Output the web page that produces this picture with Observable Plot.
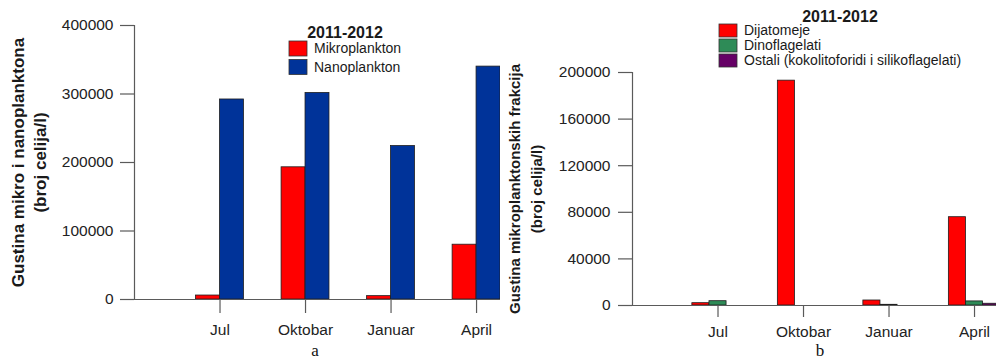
<!DOCTYPE html>
<html>
<head>
<meta charset="utf-8">
<script src="https://cdn.jsdelivr.net/npm/d3@7"></script>
<script src="https://cdn.jsdelivr.net/npm/@observablehq/plot@0.6"></script>
<style>
  body { margin: 0; background: #fff; }
  #wrap { position: relative; width: 996px; height: 359px; overflow: hidden; background: #fff;
          font-family: "Liberation Sans", Arial, sans-serif; }
  #wrap > svg { position: absolute; top: 0; }
</style>
</head>
<body>
<div id="wrap"></div>
<script>
// Sampling months (one season each, 2011-2012)
const months = ["Jul", "Oktobar", "Januar", "April"];

// Panel a: total density, cells per litre
const mikroplankton = [5800, 193000, 4900, 80000];
const nanoplankton = [292000, 301500, 224000, 340000];

// Panel b: microplankton fractions, cells per litre
const dijatomeje = [2000, 193000, 4300, 75800];
const dinoflagelati = [3700, 0, 600, 3500];
const ostali = [0, 0, 0, 1500];

// Axis ticks
const ticksA = [0, 100000, 200000, 300000, 400000];
const ticksB = [0, 40000, 80000, 120000, 160000, 200000];

// Series names and colours
const seriesA = ["Mikroplankton", "Nanoplankton"];
const colorsA = ["#ff0000", "#003399"];
const seriesB = ["Dijatomeje", "Dinoflagelati", "Ostali (kokolitoforidi i silikoflagelati)"];
const colorsB = ["#ff0000", "#2e8b57", "#660066"];

const period = "2011-2012";
const labelA = ["Gustina mikro i nanoplanktona", "(broj celija/l)"];
const labelB = ["Gustina mikroplanktonskih frakcija", "(broj celija/l)"];

const FONT = "'Liberation Sans', Arial, sans-serif";
const wrap = document.getElementById("wrap");

// Grouped bars: each month sits at index 1..4 on a linear x scale,
// bars of one group are placed side by side, centred on the month tick.
function groupedRows(series, values, barW) {
  const rows = [];
  const k = series.length;
  months.forEach((m, i) => {
    series.forEach((s, j) => {
      const v = values[j][i];
      if (v > 0) rows.push({month: m, series: s, value: v, x1: i + 1 + (j - k / 2) * barW, x2: i + 1 + (j - k / 2 + 1) * barW});
    });
  });
  return rows;
}

function panel(o) {
  const rows = groupedRows(o.series, o.values, o.barW);
  const svg = Plot.plot({
    width: o.width, height: o.height,
    marginTop: o.marginTop, marginBottom: o.marginBottom,
    marginLeft: o.marginLeft, marginRight: 0,
    style: {fontFamily: FONT, fontSize: "15.5px", color: "#222", background: "transparent"},
    x: {domain: [0, o.xMax]},
    y: {domain: [0, o.yMax]},
    color: {domain: o.series, range: o.colors},
    marks: [
      Plot.rectY(rows, {x1: "x1", x2: "x2", y: "value", fill: "series", stroke: "#1e1e1e", strokeWidth: 0.8}),
      Plot.ruleY([0], {stroke: "#5a5a5a", strokeWidth: 1.2}),
      Plot.ruleX([0], {y1: 0, y2: o.yMax, stroke: "#5a5a5a", strokeWidth: 1.2}),
      Plot.axisY({ticks: o.ticks, tickFormat: d3.format("d"), tickSize: 14, tickPadding: o.yPad,
                  stroke: "#5a5a5a", strokeWidth: 1.2, fill: "#222", label: null}),
      Plot.axisX({ticks: months.map((m, i) => i + 1), tickFormat: d => months[d - 1],
                  tickSize: o.xTick, tickPadding: o.xPad, stroke: "#5a5a5a", strokeWidth: 1.2, fill: "#222", label: null}),
      Plot.text([o.label[0]], {frameAnchor: "left", rotate: -90, dx: o.labelDx[0], textAnchor: "middle",
                               lineAnchor: "middle", fontWeight: "bold", fontSize: o.labelSize, fill: "#1a1a1a"}),
      Plot.text([o.label[1]], {frameAnchor: "left", rotate: -90, dx: o.labelDx[1], textAnchor: "middle",
                               lineAnchor: "middle", fontWeight: "bold", fontSize: o.labelSize, fill: "#1a1a1a"})
    ]
  });
  svg.style.left = o.left + "px";
  wrap.appendChild(svg);
}

panel({
  left: 0, width: 500, height: 340, marginTop: 25, marginBottom: 41, marginLeft: 134,
  xMax: 4.28, yMax: 400000, ticks: ticksA, barW: 0.28, yPad: 7, xTick: 14, xPad: 10,
  series: seriesA, colors: colorsA, values: [mikroplankton, nanoplankton],
  label: labelA, labelDx: [-116, -94], labelSize: 17
});

panel({
  left: 500, width: 496, height: 340, marginTop: 72, marginBottom: 35, marginLeft: 132,
  xMax: 4.257, yMax: 200000, ticks: ticksB, barW: 0.2, yPad: 8, xTick: 12, xPad: 8,
  series: seriesB, colors: colorsB, values: [dijatomeje, dinoflagelati, ostali],
  label: labelB, labelDx: [-117, -95], labelSize: 15
});

// Legends and panel letters
const overlay = d3.select(wrap).append("svg")
  .attr("width", 996).attr("height", 359)
  .style("left", "0px").style("pointer-events", "none")
  .style("font-family", FONT);

function legend(g, o) {
  g.append("text").attr("x", o.titleX).attr("y", o.titleY).attr("text-anchor", "middle")
    .attr("font-weight", "bold").attr("font-size", 16).attr("fill", "#1a1a1a").text(period);
  o.series.forEach((s, i) => {
    g.append("rect").attr("x", o.x).attr("y", o.y + i * o.step).attr("width", o.sw).attr("height", o.sh)
      .attr("fill", o.colors[i]).attr("stroke", "#333").attr("stroke-width", 0.8);
    g.append("text").attr("x", o.x + o.sw + o.gap).attr("y", o.y + i * o.step + o.base)
      .attr("font-size", o.fontSize).attr("fill", "#1a1a1a").text(s);
  });
}

legend(overlay.append("g"), {titleX: 345, titleY: 38, x: 289, y: 41, step: 18.5, sw: 18, sh: 15, gap: 7,
  base: 12, fontSize: 14, series: seriesA, colors: colorsA});
legend(overlay.append("g"), {titleX: 840, titleY: 22, x: 719, y: 24, step: 15, sw: 18, sh: 13, gap: 7,
  base: 10.5, fontSize: 14, series: seriesB, colors: colorsB});

overlay.append("text").attr("x", 315).attr("y", 356).attr("text-anchor", "middle")
  .attr("font-family", "'Liberation Serif', 'Times New Roman', serif").attr("font-size", 17).attr("fill", "#111").text("a");
overlay.append("text").attr("x", 820).attr("y", 356).attr("text-anchor", "middle")
  .attr("font-family", "'Liberation Serif', 'Times New Roman', serif").attr("font-size", 17).attr("fill", "#111").text("b");
</script>
</body>
</html>
